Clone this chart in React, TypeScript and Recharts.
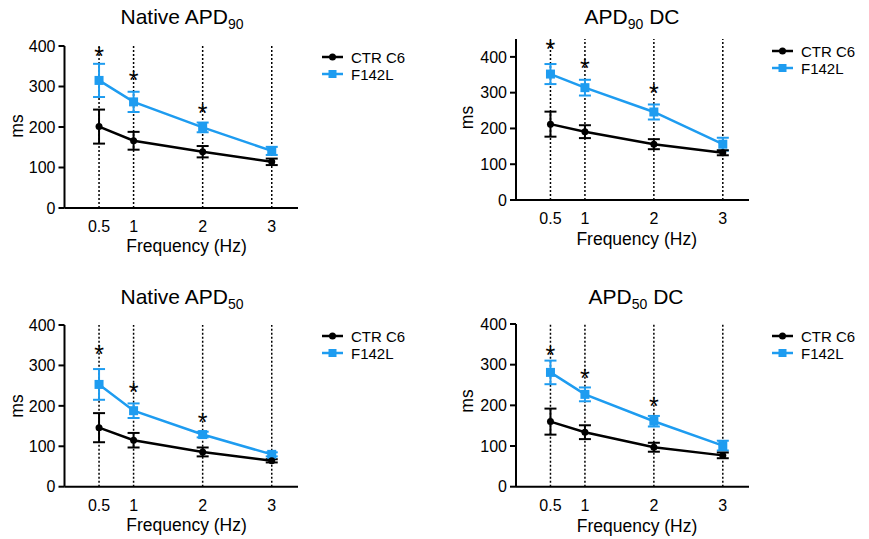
import React from 'react';
import { ComposedChart, Line, Scatter, XAxis, YAxis, ReferenceLine, ErrorBar } from 'recharts';

const frequencies = [0.5, 1, 2, 3];
const xTicks = [0.5, 1, 2, 3];
const yTicks = [0, 100, 200, 300, 400];
const seriesNames = ['CTR C6', 'F142L'];

// Native APD90
const native90Ctr = [201, 166, 139, 114];
const native90CtrErr = [42, 22, 14, 8];
const native90Mut = [315, 262, 199, 141];
const native90MutErr = [41, 25, 12, 10];
const native90Sig = [390, 331, 249];

// APD90 DC
const dc90Ctr = [212, 191, 156, 132];
const dc90CtrErr = [35, 18, 14, 7];
const dc90Mut = [352, 314, 246, 156];
const dc90MutErr = [28, 22, 21, 18];
const dc90Sig = [440, 386, 315];

// Native APD50
const native50Ctr = [146, 115, 86, 64];
const native50CtrErr = [36, 18, 11, 4];
const native50Mut = [253, 188, 129, 80];
const native50MutErr = [38, 18, 7, 5];
const native50Sig = [342, 249, 176];

// APD50 DC
const dc50Ctr = [160, 134, 97, 77];
const dc50CtrErr = [32, 17, 11, 7];
const dc50Mut = [281, 227, 161, 101];
const dc50MutErr = [29, 17, 13, 12];
const dc50Sig = [339, 283, 213];

const FONT = '"Liberation Sans", Arial, Helvetica, sans-serif';
const BLUE = '#1E9CF0';
const BLACK = '#000000';

const squareDot = (p: any) => {
  if (p.cx == null || p.cy == null) return <g key={`sq-${p.index}`} />;
  return <rect key={`sq-${p.index}`} x={p.cx - 4.5} y={p.cy - 4.5} width={9} height={9} fill={BLUE} />;
};
const circleDot = (p: any) => {
  if (p.cx == null || p.cy == null) return <g key={`ci-${p.index}`} />;
  return <circle key={`ci-${p.index}`} cx={p.cx} cy={p.cy} r={3.5} fill={BLACK} />;
};
const asterisk = (p: any) => {
  if (p.cx == null || p.cy == null) return <g />;
  return (
    <text x={p.cx} y={p.cy + 15} textAnchor="middle" fontSize={25} fontFamily={FONT} fill={BLACK}>
      *
    </text>
  );
};

type PanelProps = {
  x: number; y: number; w: number; h: number;
  margin: { top: number; right: number; bottom: number; left: number };
  yMax: number;
  ctr: number[]; ctrErr: number[]; mut: number[]; mutErr: number[]; sig: number[];
};

function Panel({ x, y, w, h, margin, yMax, ctr, ctrErr, mut, mutErr, sig }: PanelProps) {
  const rows = frequencies.map((f, i) => ({ f, ctr: ctr[i], ctrErr: ctrErr[i], mut: mut[i], mutErr: mutErr[i] }));
  const sigRows = sig.map((v, i) => ({ f: frequencies[i], sig: v }));
  const tickStyle = { fill: BLACK, fontSize: 16, fontFamily: FONT };
  return (
    <div style={{ position: 'absolute', left: x, top: y }}>
      <ComposedChart width={w} height={h} data={rows} margin={margin}>
        <XAxis
          type="number"
          dataKey="f"
          domain={[0, 3.38]}
          ticks={xTicks}
          allowDataOverflow
          height={30}
          axisLine={{ stroke: BLACK, strokeWidth: 2 }}
          tickLine={false}
          tickSize={6}
          tickMargin={7}
          tick={tickStyle}
        />
        <YAxis
          type="number"
          domain={[0, yMax]}
          ticks={yTicks}
          allowDataOverflow
          width={50}
          axisLine={{ stroke: BLACK, strokeWidth: 2 }}
          tickLine={{ stroke: BLACK, strokeWidth: 2 }}
          tickSize={6}
          tickMargin={3}
          tick={tickStyle}
        />
        {frequencies.map((f) => (
          <ReferenceLine key={`ref-${f}`} x={f} stroke={BLACK} strokeWidth={1.5} strokeDasharray="2 2" />
        ))}
        <Line dataKey="mut" stroke={BLUE} strokeWidth={2.5} dot={squareDot} activeDot={false} isAnimationActive={false}>
          <ErrorBar dataKey="mutErr" width={6} stroke={BLUE} strokeWidth={2} direction="y" isAnimationActive={false} />
        </Line>
        <Line dataKey="ctr" stroke={BLACK} strokeWidth={2.5} dot={circleDot} activeDot={false} isAnimationActive={false}>
          <ErrorBar dataKey="ctrErr" width={6} stroke={BLACK} strokeWidth={2} direction="y" isAnimationActive={false} />
        </Line>
        <Scatter data={sigRows} dataKey="sig" shape={asterisk} isAnimationActive={false} />
      </ComposedChart>
    </div>
  );
}

function Legend({ x1, x2, tx, y1, y2 }: { x1: number; x2: number; tx: number; y1: number; y2: number }) {
  const mid = (x1 + x2) / 2;
  return (
    <g>
      <line x1={x1} x2={x2} y1={y1} y2={y1} stroke={BLACK} strokeWidth={2.5} />
      <circle cx={mid} cy={y1} r={3.5} fill={BLACK} />
      <text x={tx} y={y1} dominantBaseline="central" fontSize={15} fontFamily={FONT} fill={BLACK}>{seriesNames[0]}</text>
      <line x1={x1} x2={x2} y1={y2} y2={y2} stroke={BLUE} strokeWidth={2.5} />
      <rect x={mid - 4} y={y2 - 4} width={8} height={8} fill={BLUE} />
      <text x={tx} y={y2} dominantBaseline="central" fontSize={15} fontFamily={FONT} fill={BLACK}>{seriesNames[1]}</text>
    </g>
  );
}

function Title({ x, y, pre, sub, post }: { x: number; y: number; pre: string; sub: string; post: string }) {
  return (
    <text x={x} y={y} textAnchor="middle" fontSize={21} fontFamily={FONT} fill={BLACK}>
      <tspan>{pre}</tspan>
      <tspan dy={5} fontSize={14}>{sub}</tspan>
      <tspan dy={-5}>{post}</tspan>
    </text>
  );
}

function AxisLabels({ mx, my, fx, fy }: { mx: number; my: number; fx: number; fy: number }) {
  return (
    <g>
      <text x={mx} y={my} transform={`rotate(-90 ${mx} ${my})`} textAnchor="middle" dominantBaseline="central" fontSize={17.5} fontFamily={FONT} fill={BLACK}>ms</text>
      <text x={fx} y={fy} textAnchor="middle" dominantBaseline="central" fontSize={17.5} fontFamily={FONT} fill={BLACK}>Frequency (Hz)</text>
    </g>
  );
}

export default function App() {
  return (
    <div style={{ position: 'absolute', left: 0, top: 0, width: 869, height: 539, background: '#fff', overflow: 'hidden' }}>
      <Panel x={0} y={0} w={440} h={270} margin={{ top: 46, right: 142, bottom: 32, left: 14.5 }} yMax={400}
        ctr={native90Ctr} ctrErr={native90CtrErr} mut={native90Mut} mutErr={native90MutErr} sig={native90Sig} />
      <Panel x={440} y={0} w={429} h={270} margin={{ top: 39, right: 120, bottom: 40, left: 26 }} yMax={450}
        ctr={dc90Ctr} ctrErr={dc90CtrErr} mut={dc90Mut} mutErr={dc90MutErr} sig={dc90Sig} />
      <Panel x={0} y={270} w={440} h={269} margin={{ top: 55, right: 142, bottom: 22.3, left: 14.5 }} yMax={400}
        ctr={native50Ctr} ctrErr={native50CtrErr} mut={native50Mut} mutErr={native50MutErr} sig={native50Sig} />
      <Panel x={440} y={270} w={429} h={269} margin={{ top: 54, right: 120, bottom: 22.3, left: 26 }} yMax={400}
        ctr={dc50Ctr} ctrErr={dc50CtrErr} mut={dc50Mut} mutErr={dc50MutErr} sig={dc50Sig} />
      <svg width={869} height={539} style={{ position: 'absolute', left: 0, top: 0, pointerEvents: 'none' }}>
        <Title x={182} y={24} pre="Native APD" sub="90" post="" />
        <Title x={632} y={24} pre="APD" sub="90" post=" DC" />
        <Title x={182} y={304} pre="Native APD" sub="50" post="" />
        <Title x={636} y={304} pre="APD" sub="50" post=" DC" />
        <AxisLabels mx={16.7} my={126} fx={186.5} fy={245.5} />
        <AxisLabels mx={467} my={117.5} fx={636.7} fy={239} />
        <AxisLabels mx={16.7} my={406} fx={186.5} fy={525} />
        <AxisLabels mx={467} my={401} fx={637} fy={526} />
        <Legend x1={322} x2={343} tx={351} y1={57} y2={74} />
        <Legend x1={772} x2={793} tx={801} y1={51} y2={68} />
        <Legend x1={322} x2={343} tx={351} y1={336} y2={353} />
        <Legend x1={772} x2={793} tx={801} y1={336} y2={353} />
      </svg>
    </div>
  );
}
